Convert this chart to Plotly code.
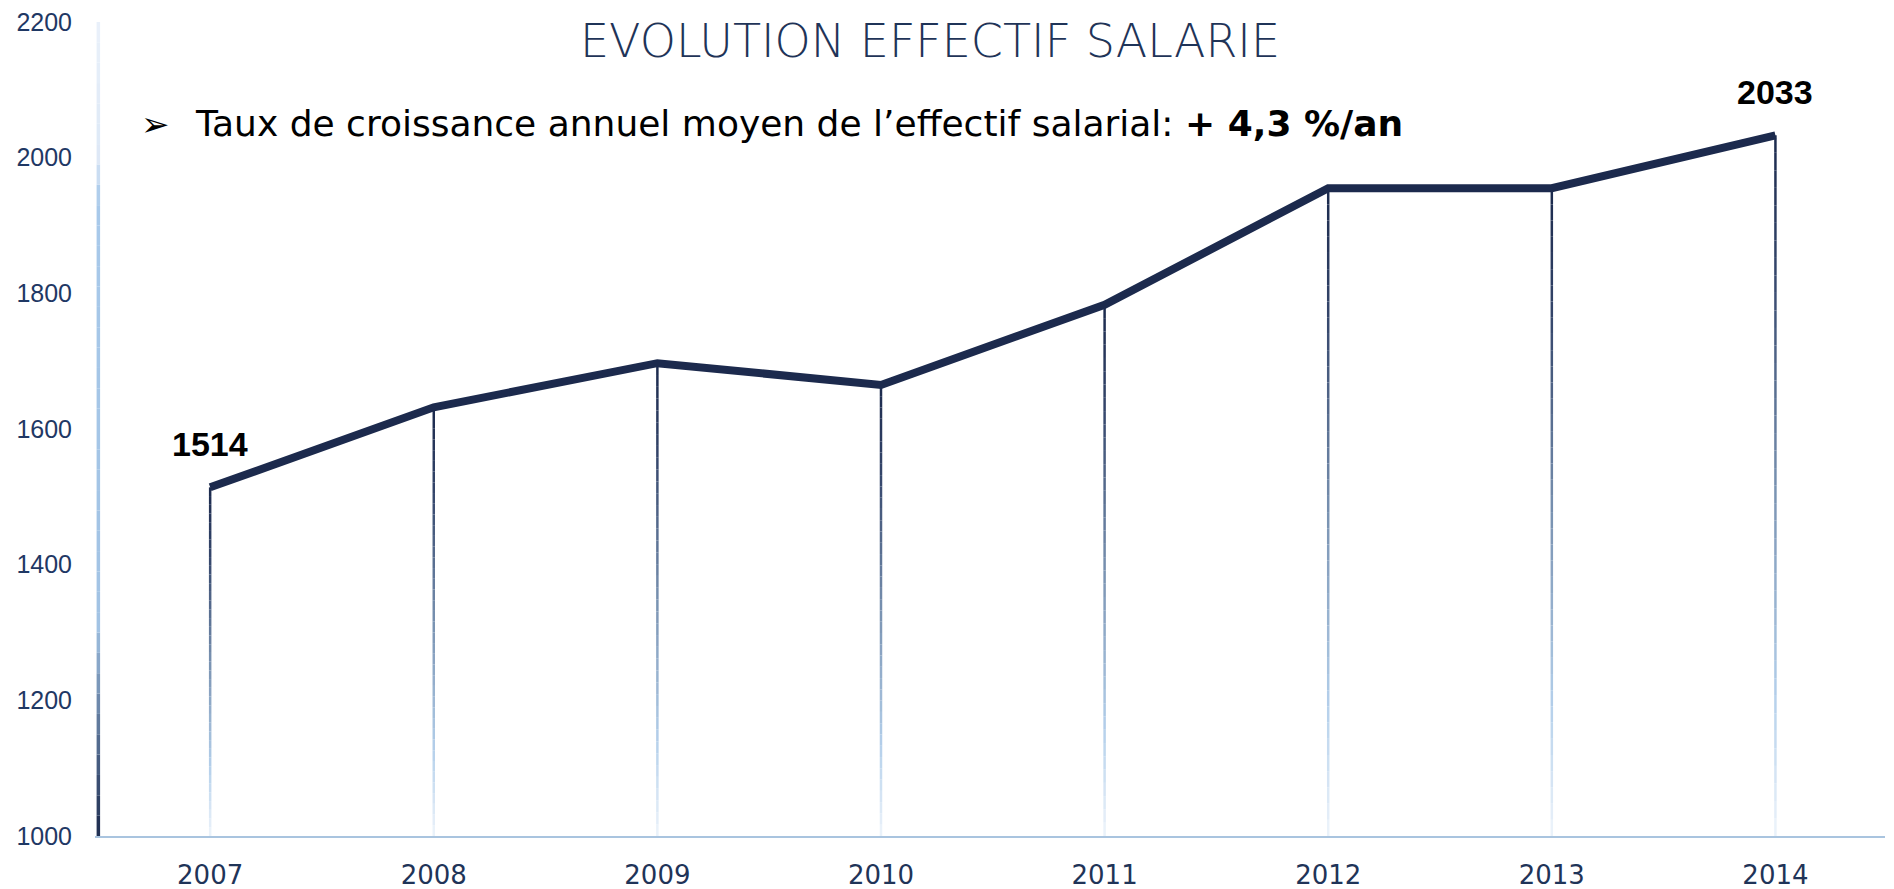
import plotly.graph_objects as go

# ---- data ----
years = ["2007", "2008", "2009", "2010", "2011", "2012", "2013", "2014"]
effectif = [1514, 1632, 1697, 1665, 1783, 1955, 1955, 2033]
labelled = {0: "1514", 7: "2033"}
y_ticks = [1000, 1200, 1400, 1600, 1800, 2000, 2200]

title_text = "EVOLUTION EFFECTIF SALARIE"
subtitle_text = "Taux de croissance annuel moyen de l\u2019effectif salarial: "
subtitle_bold = "+ 4,3 %/an"

NAVY = "#1c2a4d"
x_idx = list(range(len(years)))
y_min, y_max = 1000, 2200

# figure size and plot-area geometry (px)
W, H = 1894, 889
L, R, T, B = 95, 9, 22, 53
PW, PH = W - L - R, H - T - B


def hex2rgb(h):
    h = h.lstrip("#")
    return [int(h[i:i + 2], 16) for i in (0, 2, 4)]


def grad_color(stops, t):
    for (t0, c0), (t1, c1) in zip(stops[:-1], stops[1:]):
        if t0 <= t <= t1:
            f = 0 if t1 == t0 else (t - t0) / (t1 - t0)
            a, b = hex2rgb(c0), hex2rgb(c1)
            return "rgb(%d,%d,%d)" % tuple(round(a[i] + (b[i] - a[i]) * f) for i in range(3))
    return stops[-1][1]


fig = go.Figure()

# gradient drop lines (bottom light -> top navy)
drop_stops = [(0, "#eef4fb"), (0.2, "#b4d0eb"), (0.5, "#7891b1"), (0.8, "#34466b"), (1, NAVY)]
N = 40
for k in range(N):
    xs, ys = [], []
    for i, v in zip(x_idx, effectif):
        y0 = y_min + (v - y_min) * k / N
        y1 = y_min + (v - y_min) * (k + 1) / N
        xs += [i, i, None]
        ys += [y0, y1, None]
    fig.add_trace(go.Scatter(x=xs, y=ys, mode="lines",
                             line=dict(color=grad_color(drop_stops, (k + 0.5) / N), width=2.5),
                             hoverinfo="skip", showlegend=False))

# gradient y-axis line (bottom navy -> light top)
axis_stops = [(0, NAVY), (0.08, "#42587c"), (0.26, "#a2c3e4"), (0.78, "#a8c9ea"), (0.83, "#dde8f6"), (1, "#eaf1fa")]
for k in range(N):
    y0 = y_min + (y_max - y_min) * k / N
    y1 = y_min + (y_max - y_min) * (k + 1) / N
    fig.add_trace(go.Scatter(x=[-0.5, -0.5], y=[y0, y1], mode="lines",
                             line=dict(color=grad_color(axis_stops, (k + 0.5) / N), width=3.5),
                             hoverinfo="skip", showlegend=False))

# main line
fig.add_trace(go.Scatter(x=x_idx, y=effectif, mode="lines",
                         line=dict(color=NAVY, width=8), showlegend=False))

# data labels
for i, txt in labelled.items():
    fig.add_annotation(x=x_idx[i], y=effectif[i], text="<b>%s</b>" % txt, showarrow=False,
                       yshift=43, xanchor="center", yanchor="middle",
                       font=dict(family="Liberation Sans", size=34, color="#000000"))

# title
fig.update_layout(title=dict(text=title_text, x=930 / W, xanchor="center",
                             y=1 - 41 / H, yanchor="middle",
                             font=dict(family="DejaVu Sans", size=46, color="#1f3458", weight=200)))

# subtitle
sub_y = (H - B - 124) / PH
fig.add_annotation(xref="paper", yref="paper", x=(139 - L) / PW, y=sub_y,
                   text="\u27a2", showarrow=False, xanchor="left", yanchor="middle",
                   font=dict(family="DejaVu Sans", size=34, color="#000000"))
fig.add_annotation(xref="paper", yref="paper", x=(193 - L) / PW, y=sub_y,
                   text=subtitle_text + "<b>" + subtitle_bold + "</b>", showarrow=False,
                   xanchor="left", yanchor="middle",
                   font=dict(family="DejaVu Sans", size=36, color="#000000"))

fig.update_xaxes(range=[-0.515, 7.49], tickvals=x_idx, ticktext=years, automargin=False,
                 showgrid=False, zeroline=False, showline=True, linecolor="#a9c4df", linewidth=2,
                 ticks="", ticklabelstandoff=15, ticklabeloverflow="allow",
                 tickfont=dict(family="DejaVu Sans", size=26, color="#1f3458"))
fig.update_yaxes(range=[y_min, y_max], tickvals=y_ticks, showgrid=False, zeroline=False, automargin=False,
                 showline=False, ticks="", ticklabelstandoff=22, ticklabeloverflow="allow",
                 tickfont=dict(family="Liberation Sans", size=25, color="#1f3864"))

fig.update_layout(width=W, height=H, autosize=False,
                  margin=dict(l=L, r=R, t=T, b=B, autoexpand=False),
                  plot_bgcolor="white", paper_bgcolor="white", showlegend=False)

fig.write_html("out.html", config={"displayModeBar": False},
               post_script="document.body.style.margin='0';document.body.style.overflow='hidden';")
